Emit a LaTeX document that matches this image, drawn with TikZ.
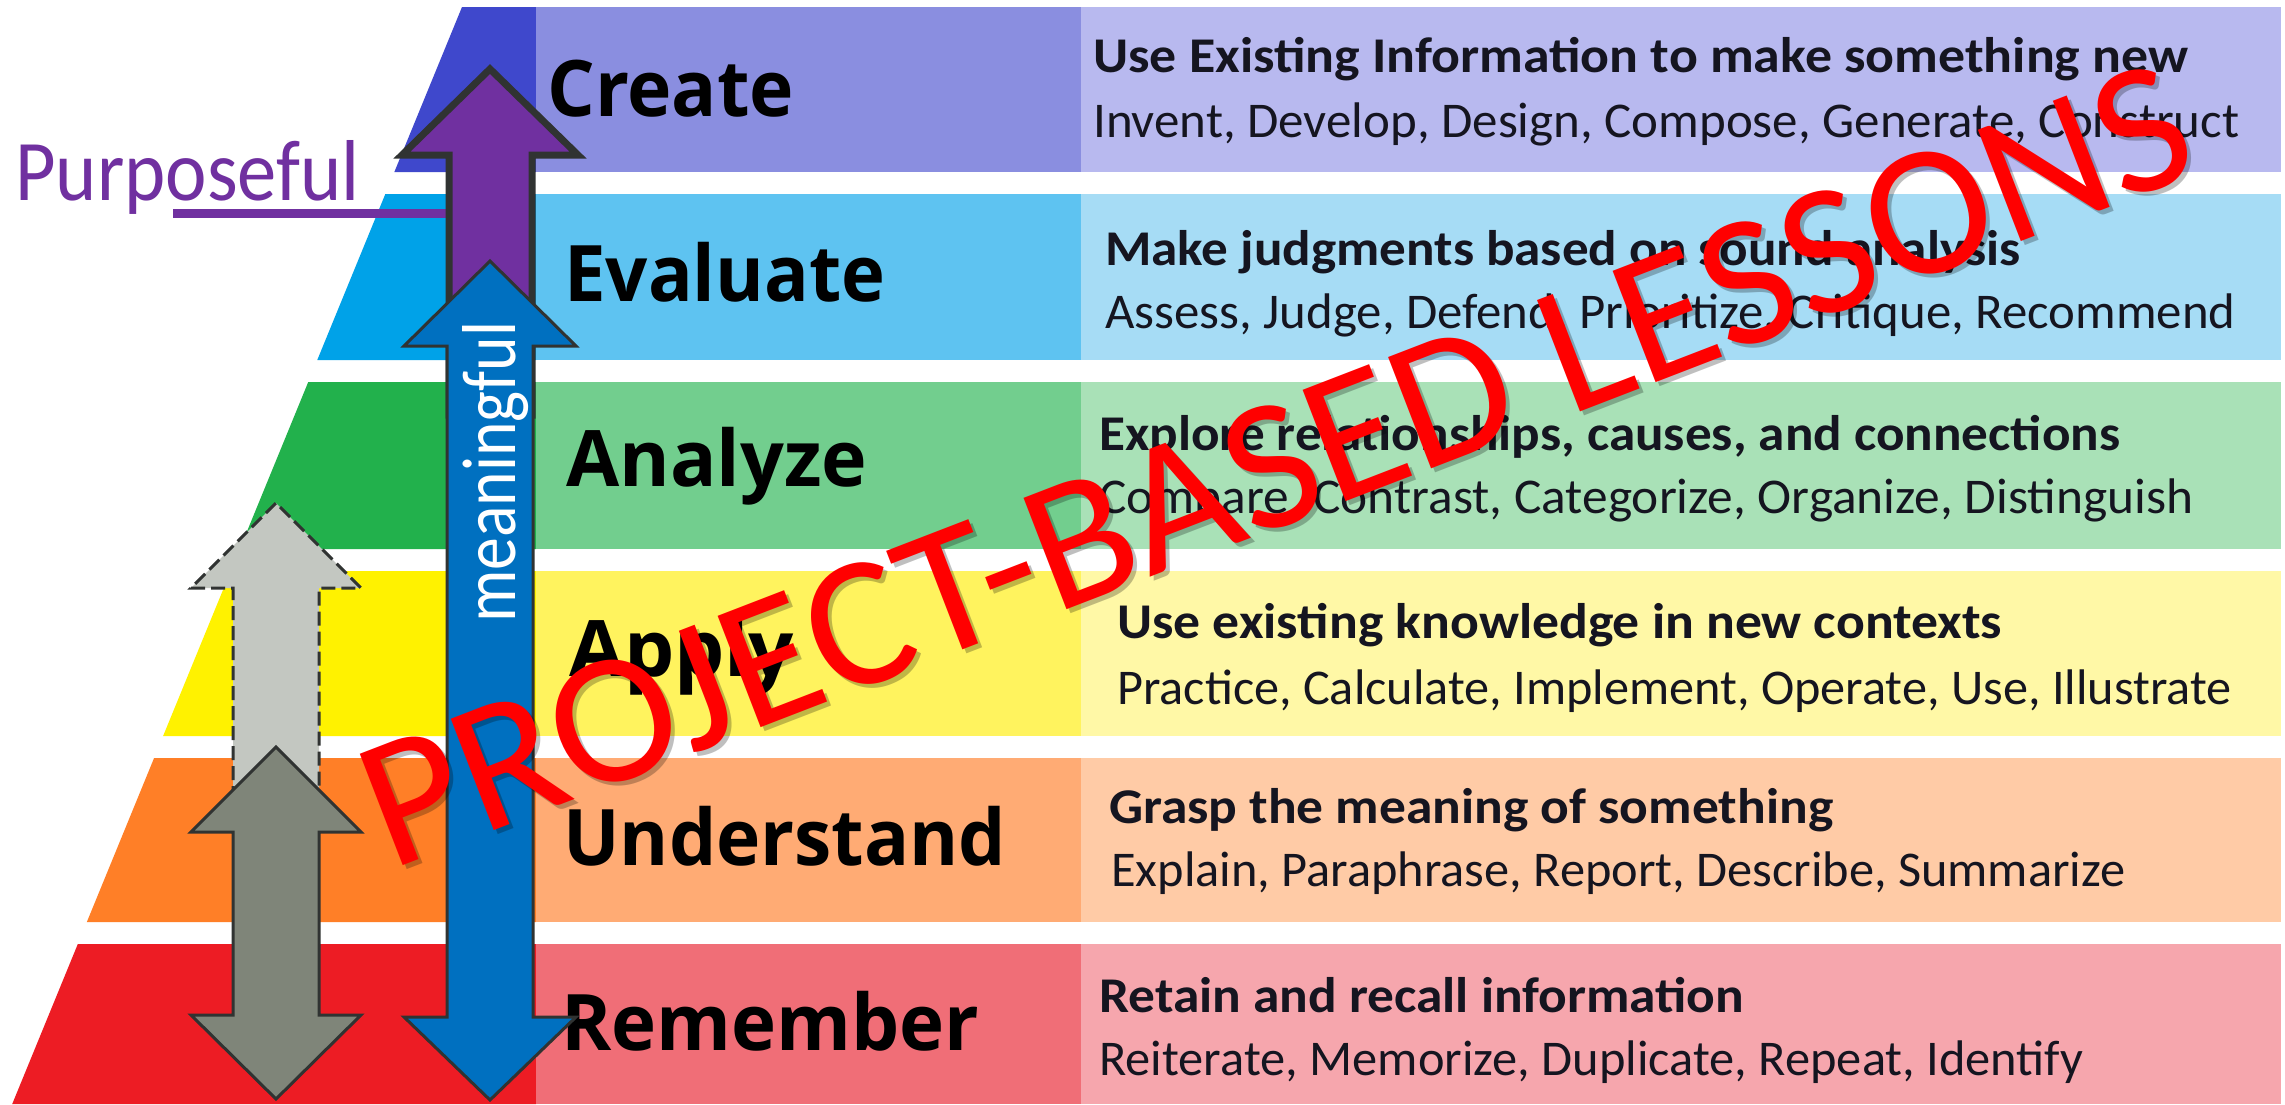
\documentclass[tikz,border=0pt]{standalone}
\usepackage{fontspec}
\usepackage{graphicx}
\newfontfamily\carl{Carlito}
\newfontfamily\osans{Open Sans}
\definecolor{crL}{HTML}{3F48CC}
\definecolor{crM}{HTML}{8A8EE0}
\definecolor{crR}{HTML}{B8B9EF}
\definecolor{evL}{HTML}{00A2E8}
\definecolor{evM}{HTML}{5EC3F1}
\definecolor{evR}{HTML}{A6DCF5}
\definecolor{anL}{HTML}{22B14C}
\definecolor{anM}{HTML}{72CE8E}
\definecolor{anR}{HTML}{A9E1B7}
\definecolor{apL}{HTML}{FFF200}
\definecolor{apM}{HTML}{FFF35E}
\definecolor{apR}{HTML}{FFF8A6}
\definecolor{unL}{HTML}{FF7F27}
\definecolor{unM}{HTML}{FFAB74}
\definecolor{unR}{HTML}{FFCBA6}
\definecolor{reL}{HTML}{ED1C24}
\definecolor{reM}{HTML}{F06E77}
\definecolor{reR}{HTML}{F6A6AD}
\definecolor{purp}{HTML}{7030A0}
\definecolor{blu}{HTML}{0070C0}
\definecolor{edgec}{HTML}{303332}
\definecolor{lgray}{HTML}{C3C7C1}
\definecolor{dgray}{HTML}{7F8579}
\definecolor{txt}{HTML}{151520}
\newcommand\lblt[2]{\resizebox{#1pt}{\height}{\osans\bfseries\fontsize{78}{80}\selectfont #2}}
\newcommand\hdrt[2]{\resizebox{#1pt}{\height}{\carl\bfseries\fontsize{50}{55}\selectfont #2}}
\newcommand\lstt[2]{\resizebox{#1pt}{\height}{\carl\fontsize{50}{55}\selectfont #2}}
\newcommand\pbltext{\resizebox{1945pt}{\height}{\carl\fontsize{186}{186}\selectfont PROJECT-BASED LESSONS}}
\tikzset{
  lbl/.style={anchor=base west, inner sep=0pt, text=black},
  dsc/.style={anchor=base west, inner sep=0pt, text=txt},
  arrowbody/.style={draw=edgec, line join=miter, miter limit=10},
  overlay text/.style={rotate=21.1, anchor=base west, inner sep=0pt},
}
\begin{document}
\begin{tikzpicture}[x=1pt,y=-1pt]
\useasboundingbox (0,0) rectangle (2285,1104);
\fill[white] (0,0) rectangle (2285,1104);
% ---- bands ----
\fill[crL] (462,7) -- (536,7) -- (536,172) -- (394.35,172) -- cycle;
\fill[crM] (536,7) rectangle (1081,172);
\fill[crR] (1081,7) rectangle (2281,172);
\fill[evL] (385.33,194) -- (536,194) -- (536,360) -- (317.27,360) -- cycle;
\fill[evM] (536,194) rectangle (1081,360);
\fill[evR] (1081,194) rectangle (2281,360);
\fill[anL] (308.25,382) -- (536,382) -- (536,549) -- (239.78,549) -- cycle;
\fill[anM] (536,382) rectangle (1081,549);
\fill[anR] (1081,382) rectangle (2281,549);
\fill[apL] (230.76,571) -- (536,571) -- (536,736) -- (163.11,736) -- cycle;
\fill[apM] (536,571) rectangle (1081,736);
\fill[apR] (1081,571) rectangle (2281,736);
\fill[unL] (154.09,758) -- (536,758) -- (536,922) -- (86.85,922) -- cycle;
\fill[unM] (536,758) rectangle (1081,922);
\fill[unR] (1081,758) rectangle (2281,922);
\fill[reL] (77.83,944) -- (536,944) -- (536,1104) -- (12.23,1104) -- cycle;
\fill[reM] (536,944) rectangle (1081,1104);
\fill[reR] (1081,944) rectangle (2281,1104);
% ---- level labels ----
\node[lbl] (lcreate) at (547,116) {\lblt{247}{Create}};
\node[lbl] (levaluate) at (564,301) {\lblt{321}{Evaluate}};
\node[lbl] (lanalyze) at (566,486) {\lblt{301}{Analyze}};
\node[lbl] (lapply) at (569,676) {\lblt{225}{Apply}};
\node[lbl] (lunderstand) at (563,865) {\lblt{443}{Understand}};
\node[lbl] (lremember) at (561,1050) {\lblt{418}{Remember}};
% ---- descriptions ----
\node[dsc] (hcreate) at (1093,72) {\hdrt{1095}{Use Existing Information to make something new}};
\node[dsc] (dcreate) at (1093,137) {\lstt{1146}{Invent, Develop, Design, Compose, Generate, Construct}};
\node[dsc] (hevaluate) at (1105,265) {\hdrt{915}{Make judgments based on sound analysis}};
\node[dsc] (devaluate) at (1105,328) {\lstt{1130}{Assess, Judge, Defend, Prioritize, Critique, Recommend}};
\node[dsc] (hanalyze) at (1099,450) {\hdrt{1021}{Explore relationships, causes, and connections}};
\node[dsc] (danalyze) at (1099,513) {\lstt{1094}{Compare, Contrast, Categorize, Organize, Distinguish}};
\node[dsc] (happly) at (1117,638) {\hdrt{885}{Use existing knowledge in new contexts}};
\node[dsc] (dapply) at (1117,704) {\lstt{1114}{Practice, Calculate, Implement, Operate, Use, Illustrate}};
\node[dsc] (hunderstand) at (1109,823) {\hdrt{724}{Grasp the meaning of something}};
\node[dsc] (dunderstand) at (1111,886) {\lstt{1014}{Explain, Paraphrase, Report, Describe, Summarize}};
\node[dsc] (hremember) at (1099,1012) {\hdrt{645}{Retain and recall information}};
\node[dsc] (dremember) at (1099,1075) {\lstt{984}{Reiterate, Memorize, Duplicate, Repeat, Identify}};
% ---- Purposeful ----
\node[anchor=base west, inner sep=0pt, text=purp] (purposeful) at (15,200) {\resizebox{344pt}{60pt}{\carl Purposeful}};
\coordinate (pline) at (173,213.5);
\coordinate (parrow) at (449,213.5);
\draw[purp, line width=9pt] (pline) -- (parrow);
% ---- purple arrow ----
\draw[arrowbody, fill=purp, line width=7pt] (449,415) -- (449,155) -- (402,155) -- (490,69) -- (578,155) -- (532,155) -- (532,415) -- cycle;
% ---- blue double arrow ----
\draw[arrowbody, fill=blu, line width=3pt] (447,346) -- (404,346) -- (490,261) -- (576,346) -- (533,346) -- (533,1017) -- (576,1017) -- (490,1100) -- (404,1017) -- (447,1017) -- cycle;
\node[rotate=90, anchor=base west, inner sep=0pt, text=white] (meaningful) at (515,623) {\resizebox{301pt}{53pt}{\carl meaningful}};
% ---- light gray dashed arrow ----
\draw[arrowbody, fill=lgray, line width=3pt, dash pattern=on 14pt off 6pt] (233,820) -- (233,588) -- (191,588) -- (276,503) -- (361,588) -- (319,588) -- (319,820);
% ---- dark gray double arrow ----
\draw[arrowbody, fill=dgray, line width=3pt] (233,832) -- (191,832) -- (276,747) -- (361,832) -- (319,832) -- (319,1015) -- (361,1015) -- (276,1099) -- (191,1015) -- (233,1015) -- cycle;
% ---- overlay text ----
\node[overlay text, text=black, opacity=0.25] (pblshadow) at (394,875) {\pbltext};
\node[overlay text, text=red] (pbl) at (390,871) {\pbltext};
\end{tikzpicture}
\end{document}
